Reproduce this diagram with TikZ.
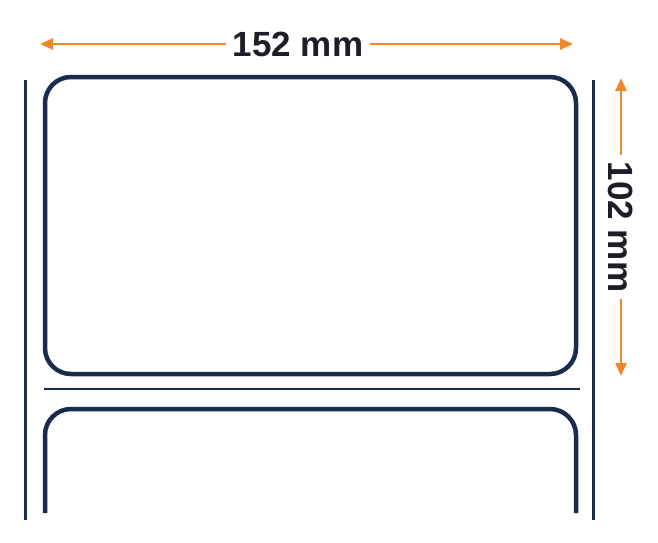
\documentclass[tikz,border=0pt]{standalone}
\usepackage{fontspec}
\setmainfont{Liberation Sans}
\usetikzlibrary{
    positioning, % posicionamento relativo
    arrows.meta  % pontas de seta (Triangle)
}

\definecolor{azulEtiqueta}{HTML}{1B2A4F}
\definecolor{laranjaCota}{HTML}{F0862A}
\definecolor{textoCota}{HTML}{1C1D26}

\begin{document}
\begin{tikzpicture}[x=1pt, y=-1pt]

    % --- Estilos ---
    \tikzset{
        % Estilo para a etiqueta (retangulo arredondado)
        etiqueta/.style={
            draw=azulEtiqueta,
            line width=4.5pt,
            rounded corners=26pt,
            inner sep=0pt
        },
        % Estilo para as linhas do papel de suporte
        suporte/.style={
            draw=azulEtiqueta,
            line width=3pt
        },
        % Estilo para os textos das medidas
        medida/.style={
            text=textoCota,
            font=\fontsize{35}{35}\selectfont\bfseries,
            inner sep=7pt
        },
        % Estilo para as setas de cota (em laranja)
        cota/.style={
            -{Triangle[length=13pt, width=11pt]},
            draw=laranjaCota,
            line width=2.6pt
        }
    }

    % --- Area da figura ---
    \useasboundingbox (0,0) rectangle (658,542);

    % --- Papel de suporte ---
    \coordinate (suporteEsqTopo) at (25,80);
    \coordinate (suporteEsqBase) at (25,520);
    \coordinate (suporteDirTopo) at (593,80);
    \coordinate (suporteDirBase) at (593,520);
    \draw[suporte] (suporteEsqTopo) -- (suporteEsqBase);
    \draw[suporte] (suporteDirTopo) -- (suporteDirBase);

    % --- Etiquetas ---
    \node[etiqueta, minimum width=531pt, minimum height=297pt] (etiqueta1) at (310.5,225.5) {};

    % Linha de separacao entre etiquetas
    \coordinate (separaEsq) at (44,389);
    \coordinate (separaDir) at (580,389);
    \draw[azulEtiqueta, line width=1.6pt] (separaEsq) -- (separaDir);

    % Segunda etiqueta (cortada em baixo)
    \coordinate (etiqueta2Esq) at (45,513);
    \coordinate (etiqueta2Dir) at (576,513);
    \draw[azulEtiqueta, line width=4.5pt, rounded corners=26pt]
        (etiqueta2Esq) |- (310.5,409) -| (etiqueta2Dir);

    % --- Cotas ---
    \node[medida] (largura) at (298,44) {152 mm};
    \coordinate (larguraEsq) at (40,44);
    \coordinate (larguraDir) at (573,44);
    \draw[cota] (largura.west) -- (larguraEsq);
    \draw[cota] (largura.east) -- (larguraDir);

    \node[medida, rotate=-90] (altura) at (621,227) {102 mm};
    \coordinate (alturaTopo) at (621,78);
    \coordinate (alturaBase) at (621,376);
    \draw[cota] (altura.west) -- (alturaTopo);
    \draw[cota] (altura.east) -- (alturaBase);

\end{tikzpicture}
\end{document}
